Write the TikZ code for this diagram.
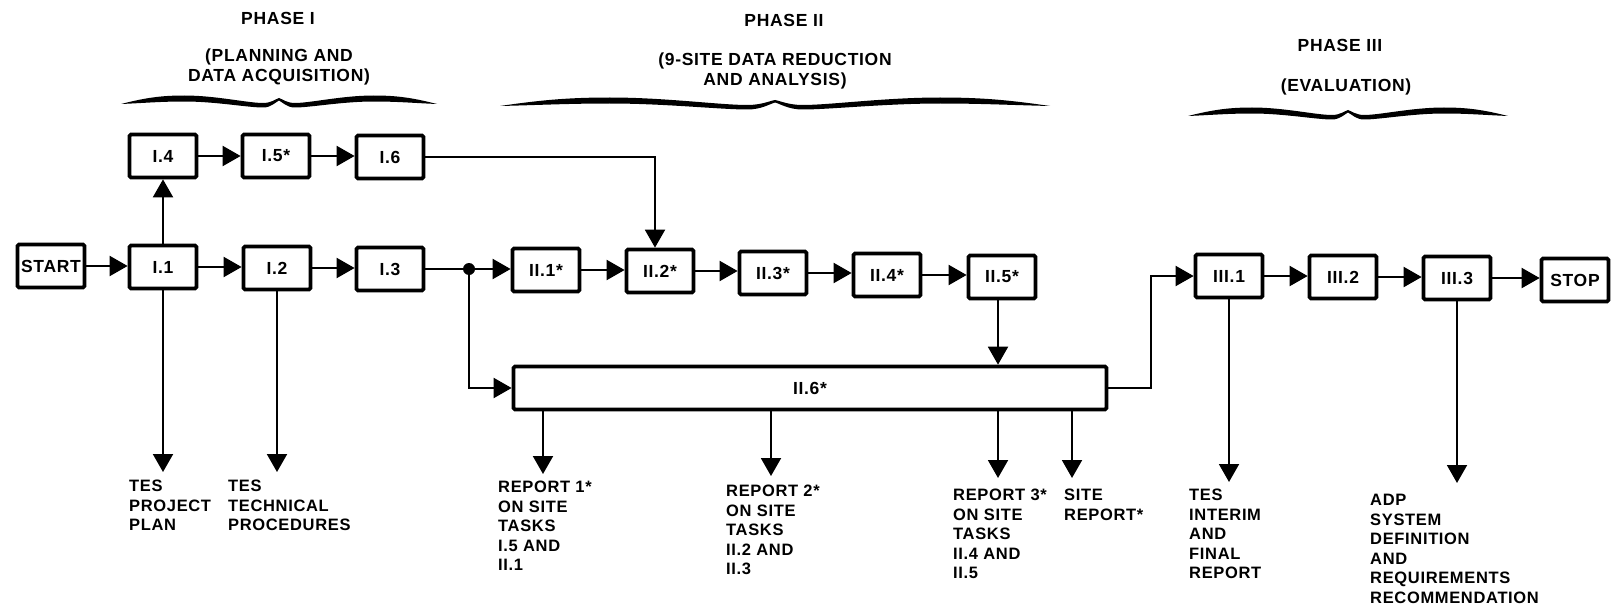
\documentclass[tikz,border=0pt]{standalone}
\usepackage{fontspec}
\setmainfont{Liberation Sans}[LetterSpace=4]
\usetikzlibrary{arrows.meta}
\newcommand{\wavebrace}[3]{%
 \fill ({#1-#3},{#2+6}) .. controls ({#1-0.85*#3},{#2}) and ({#1-0.75*#3},{#2-2.5}) .. ({#1-0.6*#3},{#2-2.5})
 .. controls ({#1-0.4*#3},{#2-2.5}) and ({#1-0.2*#3},{#2+5}) .. ({#1-0.1*#3},{#2+5})
 .. controls ({#1-0.05*#3},{#2+5}) and ({#1-0.02*#3},{#2+1}) .. (#1,#2)
 .. controls ({#1+0.02*#3},{#2+1}) and ({#1+0.05*#3},{#2+5}) .. ({#1+0.1*#3},{#2+5})
 .. controls ({#1+0.2*#3},{#2+5}) and ({#1+0.4*#3},{#2-2.5}) .. ({#1+0.6*#3},{#2-2.5})
 .. controls ({#1+0.75*#3},{#2-2.5}) and ({#1+0.85*#3},{#2}) .. ({#1+#3},{#2+6})
 .. controls ({#1+0.85*#3},{#2+5}) and ({#1+0.75*#3},{#2+3.5}) .. ({#1+0.6*#3},{#2+3.5})
 .. controls ({#1+0.4*#3},{#2+3.5}) and ({#1+0.2*#3},{#2+9.5}) .. ({#1+0.1*#3},{#2+9.5})
 .. controls ({#1+0.05*#3},{#2+9.5}) and ({#1+0.02*#3},{#2+4}) .. (#1,{#2+2.5})
 .. controls ({#1-0.02*#3},{#2+4}) and ({#1-0.05*#3},{#2+9.5}) .. ({#1-0.1*#3},{#2+9.5})
 .. controls ({#1-0.2*#3},{#2+9.5}) and ({#1-0.4*#3},{#2+3.5}) .. ({#1-0.6*#3},{#2+3.5})
 .. controls ({#1-0.75*#3},{#2+3.5}) and ({#1-0.85*#3},{#2+5}) .. ({#1-#3},{#2+6}) -- cycle;}
\begin{document}
\begin{tikzpicture}[x=1pt,y=-1pt,
  box/.style={draw, line width=3.7pt, rounded corners=1.5pt, minimum width=67pt, minimum height=43pt, inner sep=0pt, font=\bfseries\fontsize{17.5}{19}\selectfont},
  conn/.style={line width=2pt},
  arr/.style={conn, -{Triangle[length=18pt,width=20pt]}},
  lbl/.style={anchor=north west, align=left, inner sep=0pt, font=\bfseries\fontsize{16.5}{19.5}\selectfont},
  hdr/.style={align=center, inner sep=0pt, font=\bfseries\fontsize{17.5}{20}\selectfont}]
\fill[white] (0,0) rectangle (1616,615);
\useasboundingbox (0,0) rectangle (1616,615);

% headers
\node[hdr] (h1) at (278,18) {PHASE I};
\node[hdr] (h1b) at (279,67) {(PLANNING AND\\DATA ACQUISITION)};
\node[hdr] (h2) at (784,20) {PHASE II};
\node[hdr] (h2b) at (775,71) {(9-SITE DATA REDUCTION\\AND ANALYSIS)};
\node[hdr] (h3) at (1340,45) {PHASE III};
\node[hdr] (h3b) at (1346,87) {(EVALUATION)};
\wavebrace{279}{98}{158}
\wavebrace{775}{100}{275}
\wavebrace{1348}{110}{160}

% boxes
\node[box] (start) at (51,266) {START};
\node[box] (i1) at (163,267) {I.1};
\node[box] (i2) at (277,268) {I.2};
\node[box] (i3) at (390,269) {I.3};
\node[box] (i4) at (163,156) {I.4};
\node[box] (i5) at (276,156) {I.5*};
\node[box] (i6) at (390,157) {I.6};
\node[box] (ii1) at (546,270) {II.1*};
\node[box] (ii2) at (660,271) {II.2*};
\node[box] (ii3) at (773,273) {II.3*};
\node[box] (ii4) at (887,275) {II.4*};
\node[box] (ii5) at (1002,277) {II.5*};
\node[box, minimum width=593pt] (ii6) at (810,388) {II.6*};
\node[box] (iii1) at (1229,276) {III.1};
\node[box] (iii2) at (1343,277) {III.2};
\node[box] (iii3) at (1457,278) {III.3};
\node[box] (stop) at (1575,280) {STOP};
\node[circle, fill, inner sep=0pt, minimum size=12pt] (dot) at (469,269) {};

% connectors
\draw[arr] (start.east) -- (start.east -| i1.west);
\draw[arr] (i1.east) -- (i1.east -| i2.west);
\draw[arr] (i2.east) -- (i2.east -| i3.west);
\draw[conn] (i3.east) -- (dot);
\draw[arr] (dot) -- (dot -| ii1.west);
\draw[arr] (dot) |- (ii6.west);
\draw[arr] (i1.north) -- (i1.north |- i4.south);
\draw[arr] (i4.east) -- (i4.east -| i5.west);
\draw[arr] (i5.east) -- (i5.east -| i6.west);
\draw[arr] (i6.east) -| ([xshift=-5pt]ii2.north);
\draw[arr] (ii1.east) -- (ii1.east -| ii2.west);
\draw[arr] (ii2.east) -- (ii2.east -| ii3.west);
\draw[arr] (ii3.east) -- (ii3.east -| ii4.west);
\draw[arr] (ii4.east) -- (ii4.east -| ii5.west);
\draw[arr] ([xshift=-4pt]ii5.south) -- ([xshift=-4pt]ii5.south |- ii6.north);
\draw[arr] (ii6.east) -- ++(43,0) |- (iii1.west);
\draw[arr] (iii1.east) -- (iii1.east -| iii2.west);
\draw[arr] (iii2.east) -- (iii2.east -| iii3.west);
\draw[arr] (iii3.east) -- (iii3.east -| stop.west);

% outputs
\coordinate (o1) at (163,472);
\coordinate (o2) at (277,472);
\coordinate (o3) at (543,474);
\coordinate (o4) at (771,476);
\coordinate (o5) at (998,478);
\coordinate (o6) at (1072,478);
\coordinate (o7) at (1229,482);
\coordinate (o8) at (1457,483);
\draw[arr] (i1.south) -- (o1);
\draw[arr] (i2.south) -- (o2);
\draw[arr] (ii6.south -| o3) -- (o3);
\draw[arr] (ii6.south -| o4) -- (o4);
\draw[arr] (ii6.south -| o5) -- (o5);
\draw[arr] (ii6.south -| o6) -- (o6);
\draw[arr] (iii1.south) -- (o7);
\draw[arr] (iii3.south) -- (o8);

\node[lbl] (l1) at (129,480) {TES\\PROJECT\\PLAN};
\node[lbl] (l2) at (228,480) {TES\\TECHNICAL\\PROCEDURES};
\node[lbl] (l3) at (498,481) {REPORT 1*\\ON SITE\\TASKS\\I.5 AND\\II.1};
\node[lbl] (l4) at (726,485) {REPORT 2*\\ON SITE\\TASKS\\II.2 AND\\II.3};
\node[lbl] (l5) at (953,489) {REPORT 3*\\ON SITE\\TASKS\\II.4 AND\\II.5};
\node[lbl] (l6) at (1064,489) {SITE\\REPORT*};
\node[lbl] (l7) at (1189,489) {TES\\INTERIM\\AND\\FINAL\\REPORT};
\node[lbl] (l8) at (1370,494) {ADP\\SYSTEM\\DEFINITION\\AND\\REQUIREMENTS\\RECOMMENDATION};
\end{tikzpicture}
\end{document}
